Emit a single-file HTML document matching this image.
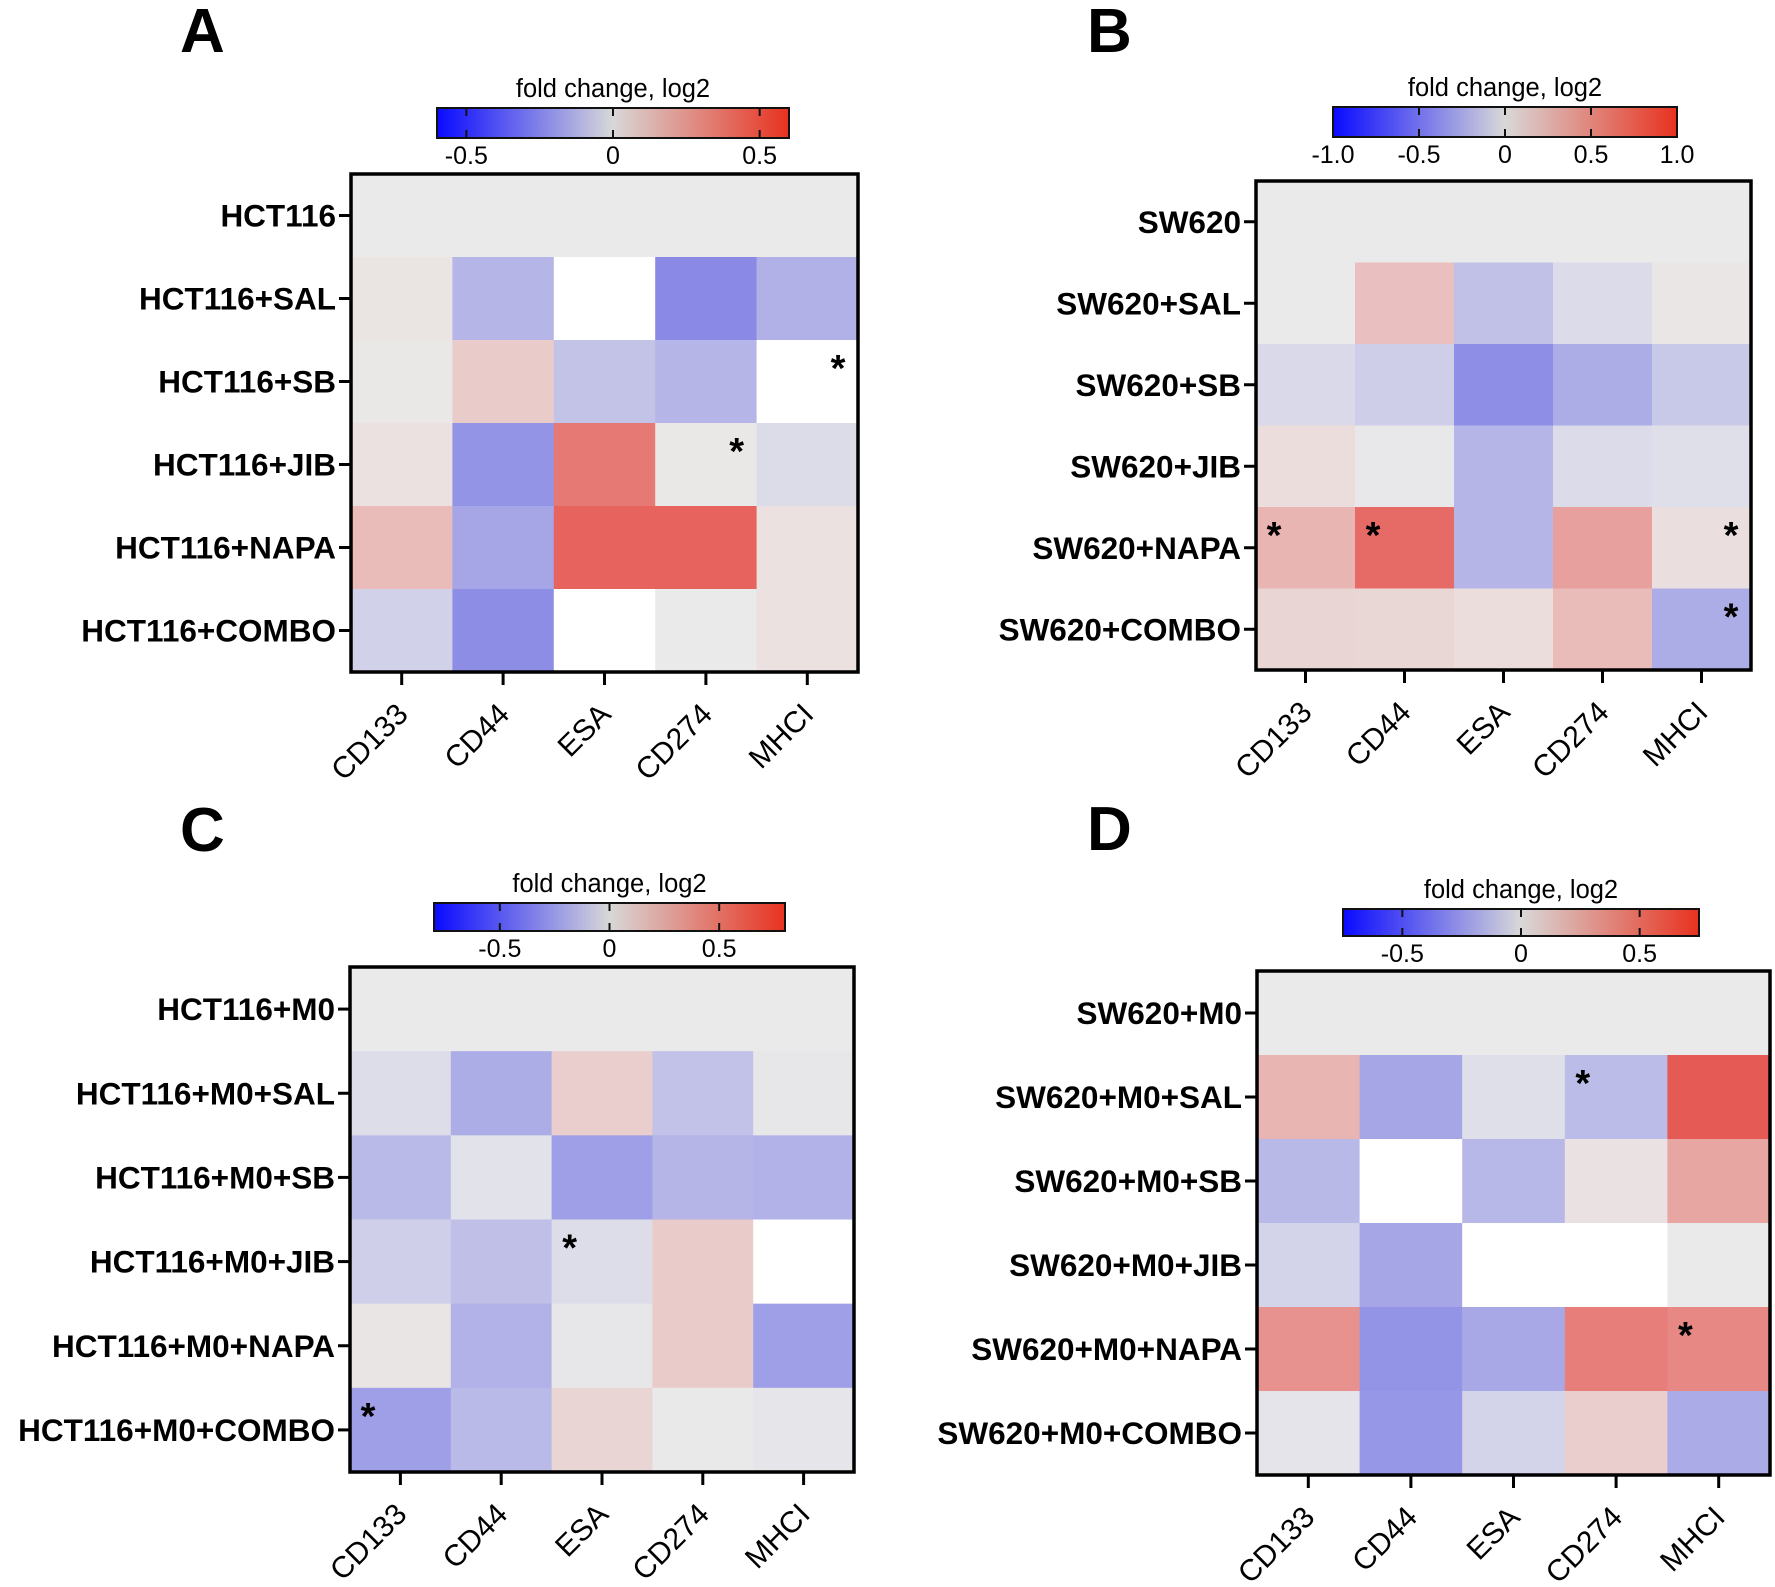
<!DOCTYPE html>
<html><head><meta charset="utf-8"><style>
html,body{margin:0;padding:0;background:#fff;}
svg{display:block;font-family:"Liberation Sans",Arial,sans-serif;}
</style></head><body>
<svg id="fig" width="1775" height="1587" viewBox="0 0 1775 1587" xmlns="http://www.w3.org/2000/svg">
<defs>
<linearGradient id="cbar" x1="0" x2="1" y1="0" y2="0">
<stop offset="0" stop-color="#0a0aff"/><stop offset="0.5" stop-color="#d8d8d8"/><stop offset="1" stop-color="#e8321f"/>
</linearGradient>
</defs>
</svg>
<script>
const markers = ["CD133","CD44","ESA","CD274","MHCI"];
const rowsA = ["HCT116","HCT116+SAL","HCT116+SB","HCT116+JIB","HCT116+NAPA","HCT116+COMBO"];
const rowsB = ["SW620","SW620+SAL","SW620+SB","SW620+JIB","SW620+NAPA","SW620+COMBO"];
const rowsC = ["HCT116+M0","HCT116+M0+SAL","HCT116+M0+SB","HCT116+M0+JIB","HCT116+M0+NAPA","HCT116+M0+COMBO"];
const rowsD = ["SW620+M0","SW620+M0+SAL","SW620+M0+SB","SW620+M0+JIB","SW620+M0+NAPA","SW620+M0+COMBO"];
// null = blank (white) cell
const valuesA = [
 [0,0,0,0,0],
 [0.02,-0.15,null,-0.27,-0.16],
 [0.01,0.10,-0.11,-0.15,null],
 [0.03,-0.24,0.36,0.01,-0.04],
 [0.15,-0.19,0.43,0.43,0.03],
 [-0.07,-0.26,null,0,0.03]];
const valuesB = [
 [0,0,0,0,0],
 [0,0.22,-0.19,-0.07,0.02],
 [-0.08,-0.13,-0.43,-0.29,-0.16],
 [0.07,-0.01,-0.25,-0.07,-0.05],
 [0.28,0.67,-0.25,0.39,0.06],
 [0.11,0.10,0.07,0.25,-0.29]];
const valuesC = [
 [0,0,0,0,0],
 [-0.05,-0.23,0.12,-0.15,-0.01],
 [-0.18,-0.03,-0.28,-0.20,-0.21],
 [-0.10,-0.16,-0.05,0.13,null],
 [0.02,-0.21,-0.01,0.13,-0.28],
 [-0.28,-0.18,0.09,-0.005,-0.02]];
const valuesD = [
 [0,0,0,0,0],
 [0.21,-0.24,-0.04,-0.16,0.57],
 [-0.17,null,-0.18,0.03,0.27],
 [-0.08,-0.24,null,null,0],
 [0.35,-0.30,-0.23,0.43,0.39],
 [-0.02,-0.29,-0.08,0.11,-0.22]];
// stars: [row, col, side]
const starsA = [[2,4,"r"],[3,3,"r"]];
const starsB = [[4,0,"l"],[4,1,"l"],[4,4,"r"],[5,4,"r"]];
const starsC = [[3,2,"l"],[5,0,"l"]];
const starsD = [[1,3,"l"],[4,4,"l"]];
const ticksA = [-0.5,0,0.5], labelsA = ["-0.5","0","0.5"];
const ticksB = [-1,-0.5,0,0.5,1], labelsB = ["-1.0","-0.5","0","0.5","1.0"];
const ticksC = [-0.5,0,0.5], labelsC = ["-0.5","0","0.5"];
const ticksD = [-0.5,0,0.5], labelsD = ["-0.5","0","0.5"];

const NS="http://www.w3.org/2000/svg";
const svg=document.getElementById('fig');
function mk(tag,attrs,parent){const e=document.createElementNS(NS,tag);for(const k in attrs)e.setAttribute(k,attrs[k]);(parent||svg).appendChild(e);return e;}
function color(v,range){
 if(v===null)return "#ffffff";
 let t=Math.max(-1,Math.min(1,v/range));
 const g=[234,234,234];
 let c;
 if(t<0){const b=[20,20,225];c=g.map((x,i)=>x+(-t)*(b[i]-x));}
 else{const r=[228,45,38];c=g.map((x,i)=>x+t*(r[i]-x));}
 return `rgb(${c.map(Math.round).join(',')})`;
}
function panel(cfg){
 const g=mk('g',{});
 
 
 const lt=mk('text',{x:cfg.lx,y:cfg.ly,'font-size':62,'font-weight':'bold'},g);
 lt.textContent=cfg.letter;
 
 
 const cb=cfg.cb;
 const cx=v=>cb.x0+(v-(-cb.range))/(2*cb.range)*(cb.x1-cb.x0);
 const cbg=mk('g',{},g);
 
 
 const tt=mk('text',{x:(cb.x0+cb.x1)/2,y:cb.y0-11,'font-size':25.5,'text-anchor':'middle'},cbg);
 tt.textContent="fold change, log2";
 
 
 mk('rect',{x:cb.x0,y:cb.y0,width:cb.x1-cb.x0,height:cb.y1-cb.y0,fill:'url(#cbar)',stroke:'#111','stroke-width':2},cbg);
 cfg.ticks.forEach((t,i)=>{
  const x=cx(t);
  mk('line',{x1:x,x2:x,y1:cb.y0,y2:cb.y0+8,stroke:'#111','stroke-width':2},cbg);
  mk('line',{x1:x,x2:x,y1:cb.y1-8,y2:cb.y1,stroke:'#111','stroke-width':2},cbg);
  const tl=mk('text',{x:x,y:cb.y1+26,'font-size':25,'text-anchor':'middle'},cbg);
  tl.textContent=cfg.tlabels[i];
  
  
 });
 const b=cfg.box;
 const cw=(b.x1-b.x0)/markers.length, rh=(b.y1-b.y0)/cfg.rows.length;
 const xs=c=>b.x0+c*cw, ys=r=>b.y0+r*rh;
 cfg.values.forEach((row,r)=>row.forEach((v,c)=>{
  const cell=mk('rect',{x:xs(c),y:ys(r),width:cw+0.5,height:rh+0.5,fill:color(v,cb.range)},g);
  
  
 }));
 mk('rect',{x:b.x0,y:b.y0,width:b.x1-b.x0,height:b.y1-b.y0,fill:'none',stroke:'#000','stroke-width':3.5},g);
 cfg.rows.forEach((name,r)=>{
  const y=ys(r)+rh/2;
  mk('line',{x1:b.x0-12,x2:b.x0,y1:y,y2:y,stroke:'#000','stroke-width':3},g);
  const t=mk('text',{x:b.x0-15,y:y+11,'font-size':31.5,'font-weight':'bold','text-anchor':'end'},g);
  t.textContent=name;
  
  
 });
 markers.forEach((m,c)=>{
  const x=xs(c)+cw/2;
  mk('line',{x1:x,x2:x,y1:b.y1,y2:b.y1+13,stroke:'#000','stroke-width':3},g);
  const ax=x+8, ay=b.y1+44;
  const t=mk('text',{x:ax,y:ay,'font-size':30,'text-anchor':'end',transform:`rotate(-45 ${ax} ${ay})`},g);
  t.textContent=m;
  
  
 });
 cfg.stars.forEach(s=>{
  const [r,c,side]=s;
  const x= side==="l" ? xs(c)+18 : xs(c)+cw-20;
  const y= ys(r)+19;
  const st=mk('text',{x:x,y:y+22,'font-size':38,'font-weight':'bold','text-anchor':'middle'},g);
  st.textContent="*";
  
  
 });
}
panel({letter:"A",lx:180,ly:52,rows:rowsA,values:valuesA,stars:starsA,ticks:ticksA,tlabels:labelsA,
 cb:{x0:437,x1:789,y0:108,y1:138,range:0.6},box:{x0:351,x1:858,y0:174,y1:672}});
panel({letter:"B",lx:1087,ly:52,rows:rowsB,values:valuesB,stars:starsB,ticks:ticksB,tlabels:labelsB,
 cb:{x0:1333,x1:1677,y0:107,y1:137,range:1.0},box:{x0:1256,x1:1751,y0:181,y1:670}});
panel({letter:"C",lx:180,ly:851,rows:rowsC,values:valuesC,stars:starsC,ticks:ticksC,tlabels:labelsC,
 cb:{x0:434,x1:785,y0:903,y1:931,range:0.8},box:{x0:350,x1:854,y0:967,y1:1472}});
panel({letter:"D",lx:1087,ly:850,rows:rowsD,values:valuesD,stars:starsD,ticks:ticksD,tlabels:labelsD,
 cb:{x0:1343,x1:1699,y0:909,y1:936,range:0.75},box:{x0:1257,x1:1770,y0:971,y1:1475}});
</script>
</body></html>
